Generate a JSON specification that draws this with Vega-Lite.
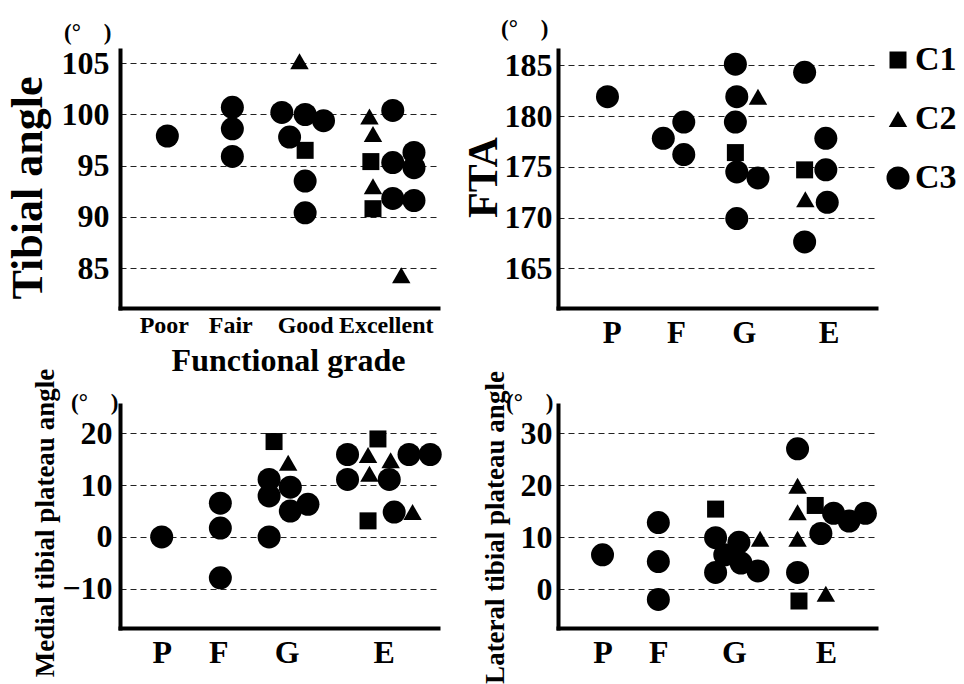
{
  "$schema": "https://vega.github.io/schema/vega-lite/v6.json",
  "background": "white",
  "padding": {"left": 5, "top": 18, "right": 0, "bottom": 0},
  "datasets": {
    "tibial": [
      {"grade": "Poor", "class": "C3", "pos": 1.02, "angle": 97.9},
      {"grade": "Fair", "class": "C3", "pos": 1.94, "angle": 100.7},
      {"grade": "Fair", "class": "C3", "pos": 1.94, "angle": 98.6},
      {"grade": "Fair", "class": "C3", "pos": 1.94, "angle": 95.9},
      {"grade": "Good", "class": "C2", "pos": 2.89, "angle": 105.2},
      {"grade": "Good", "class": "C3", "pos": 2.64, "angle": 100.2},
      {"grade": "Good", "class": "C3", "pos": 2.97, "angle": 100.0},
      {"grade": "Good", "class": "C3", "pos": 3.23, "angle": 99.4},
      {"grade": "Good", "class": "C3", "pos": 2.75, "angle": 97.8},
      {"grade": "Good", "class": "C1", "pos": 2.97, "angle": 96.5},
      {"grade": "Good", "class": "C3", "pos": 2.97, "angle": 93.5},
      {"grade": "Good", "class": "C3", "pos": 2.97, "angle": 90.4},
      {"grade": "Excellent", "class": "C2", "pos": 3.88, "angle": 99.8},
      {"grade": "Excellent", "class": "C2", "pos": 3.93, "angle": 98.1},
      {"grade": "Excellent", "class": "C1", "pos": 3.90, "angle": 95.4},
      {"grade": "Excellent", "class": "C2", "pos": 3.93, "angle": 93.0},
      {"grade": "Excellent", "class": "C1", "pos": 3.93, "angle": 90.8},
      {"grade": "Excellent", "class": "C3", "pos": 4.21, "angle": 100.4},
      {"grade": "Excellent", "class": "C3", "pos": 4.21, "angle": 95.3},
      {"grade": "Excellent", "class": "C3", "pos": 4.21, "angle": 91.8},
      {"grade": "Excellent", "class": "C3", "pos": 4.51, "angle": 96.3},
      {"grade": "Excellent", "class": "C3", "pos": 4.51, "angle": 94.8},
      {"grade": "Excellent", "class": "C3", "pos": 4.51, "angle": 91.6},
      {"grade": "Excellent", "class": "C2", "pos": 4.33, "angle": 84.3}
    ],
    "fta": [
      {"grade": "P", "class": "C3", "pos": 1.05, "angle": 181.9},
      {"grade": "F", "class": "C3", "pos": 1.84, "angle": 177.8},
      {"grade": "F", "class": "C3", "pos": 2.13, "angle": 179.4},
      {"grade": "F", "class": "C3", "pos": 2.13, "angle": 176.2},
      {"grade": "G", "class": "C3", "pos": 2.86, "angle": 185.1},
      {"grade": "G", "class": "C3", "pos": 2.88, "angle": 181.9},
      {"grade": "G", "class": "C3", "pos": 2.86, "angle": 179.4},
      {"grade": "G", "class": "C1", "pos": 2.86, "angle": 176.4},
      {"grade": "G", "class": "C3", "pos": 2.88, "angle": 174.5},
      {"grade": "G", "class": "C3", "pos": 3.18, "angle": 173.9},
      {"grade": "G", "class": "C3", "pos": 2.88, "angle": 169.9},
      {"grade": "G", "class": "C2", "pos": 3.18, "angle": 181.9},
      {"grade": "E", "class": "C3", "pos": 3.84, "angle": 184.3},
      {"grade": "E", "class": "C1", "pos": 3.84, "angle": 174.7},
      {"grade": "E", "class": "C2", "pos": 3.85, "angle": 171.8},
      {"grade": "E", "class": "C3", "pos": 3.84, "angle": 167.6},
      {"grade": "E", "class": "C3", "pos": 4.14, "angle": 177.8},
      {"grade": "E", "class": "C3", "pos": 4.14, "angle": 174.7},
      {"grade": "E", "class": "C3", "pos": 4.16, "angle": 171.5}
    ],
    "medial": [
      {"grade": "P", "class": "C3", "pos": 0.94, "angle": 0.0},
      {"grade": "F", "class": "C3", "pos": 1.77, "angle": 6.5},
      {"grade": "F", "class": "C3", "pos": 1.77, "angle": 1.7},
      {"grade": "F", "class": "C3", "pos": 1.77, "angle": -7.9},
      {"grade": "G", "class": "C1", "pos": 2.53, "angle": 18.4},
      {"grade": "G", "class": "C2", "pos": 2.73, "angle": 14.3},
      {"grade": "G", "class": "C3", "pos": 2.46, "angle": 11.1},
      {"grade": "G", "class": "C3", "pos": 2.46, "angle": 7.9},
      {"grade": "G", "class": "C3", "pos": 2.76, "angle": 9.6},
      {"grade": "G", "class": "C3", "pos": 2.76, "angle": 5.0},
      {"grade": "G", "class": "C3", "pos": 3.01, "angle": 6.3},
      {"grade": "G", "class": "C3", "pos": 2.46, "angle": 0.0},
      {"grade": "E", "class": "C3", "pos": 3.57, "angle": 15.9},
      {"grade": "E", "class": "C3", "pos": 3.57, "angle": 11.1},
      {"grade": "E", "class": "C2", "pos": 3.86, "angle": 15.8},
      {"grade": "E", "class": "C2", "pos": 3.88, "angle": 12.2},
      {"grade": "E", "class": "C1", "pos": 4.00, "angle": 18.9},
      {"grade": "E", "class": "C2", "pos": 4.18, "angle": 14.8},
      {"grade": "E", "class": "C3", "pos": 4.16, "angle": 11.1},
      {"grade": "E", "class": "C3", "pos": 4.44, "angle": 15.9},
      {"grade": "E", "class": "C3", "pos": 4.74, "angle": 15.9},
      {"grade": "E", "class": "C1", "pos": 3.86, "angle": 3.1},
      {"grade": "E", "class": "C3", "pos": 4.23, "angle": 4.8},
      {"grade": "E", "class": "C2", "pos": 4.49, "angle": 4.8}
    ],
    "lateral": [
      {"grade": "P", "class": "C3", "pos": 0.98, "angle": 6.6},
      {"grade": "F", "class": "C3", "pos": 1.77, "angle": 12.8},
      {"grade": "F", "class": "C3", "pos": 1.77, "angle": 5.3},
      {"grade": "F", "class": "C3", "pos": 1.77, "angle": -2.0},
      {"grade": "G", "class": "C1", "pos": 2.58, "angle": 15.4},
      {"grade": "G", "class": "C3", "pos": 2.58, "angle": 9.9},
      {"grade": "G", "class": "C3", "pos": 2.71, "angle": 6.6},
      {"grade": "G", "class": "C3", "pos": 2.91, "angle": 9.0},
      {"grade": "G", "class": "C3", "pos": 2.94, "angle": 5.0},
      {"grade": "G", "class": "C3", "pos": 2.58, "angle": 3.2},
      {"grade": "G", "class": "C3", "pos": 3.18, "angle": 3.5},
      {"grade": "G", "class": "C2", "pos": 3.21, "angle": 9.7},
      {"grade": "E", "class": "C3", "pos": 3.74, "angle": 27.0},
      {"grade": "E", "class": "C2", "pos": 3.74, "angle": 19.9},
      {"grade": "E", "class": "C2", "pos": 3.74, "angle": 14.8},
      {"grade": "E", "class": "C2", "pos": 3.74, "angle": 9.7},
      {"grade": "E", "class": "C3", "pos": 3.74, "angle": 3.2},
      {"grade": "E", "class": "C1", "pos": 3.76, "angle": -2.3},
      {"grade": "E", "class": "C1", "pos": 3.99, "angle": 16.1},
      {"grade": "E", "class": "C3", "pos": 4.07, "angle": 10.7},
      {"grade": "E", "class": "C2", "pos": 4.14, "angle": -0.9},
      {"grade": "E", "class": "C3", "pos": 4.25, "angle": 14.6},
      {"grade": "E", "class": "C3", "pos": 4.47, "angle": 13.1},
      {"grade": "E", "class": "C3", "pos": 4.70, "angle": 14.6}
    ]
  },
  "columns": 2,
  "bounds": "flush",
  "spacing": {"row": 97, "column": 120},
  "concat": [
    {
      "width": 318, "height": 258,
      "title": {"text": "(°\u00a0\u00a0\u00a0\u00a0)", "dx": -56, "offset": 2},
      "data": {"name": "tibial"},
      "mark": {"type": "point", "filled": true, "opacity": 1, "color": "black"},
      "encoding": {
        "x": {"field": "pos", "type": "quantitative",
          "scale": {"domain": [0.35, 4.85], "nice": false, "zero": false},
          "axis": {"values": [0.97, 1.91, 2.97, 4.11],
            "labelExpr": "datum.value < 1.5 ? 'Poor' : datum.value < 2.5 ? 'Fair' : datum.value < 3.5 ? 'Good' : 'Excellent'",
            "labelFontSize": 24, "labelPadding": 5,
            "title": "Functional grade", "titleFontSize": 32, "titleX": 168, "titleY": 52, "titleBaseline": "middle", "titleAlign": "center"}},
        "y": {"field": "angle", "type": "quantitative",
          "scale": {"domain": [81.1, 106.3], "nice": false, "zero": false},
          "axis": {"values": [85, 90, 95, 100, 105], "labelFontSize": 32, "labelPadding": 11,
            "title": "Tibial angle", "titleFontSize": 44, "titleX": -92, "titleY": 137.5, "titleBaseline": "middle", "titleAngle": -90, "titleAlign": "center"}},
        "shape": {"field": "class", "type": "nominal", "scale": {"domain": ["C1", "C2", "C3"], "range": ["square", "triangle-up", "circle"]}, "legend": null},
        "size": {"field": "class", "type": "nominal", "scale": {"type": "ordinal", "domain": ["C1", "C2", "C3"], "range": [289, 340, 529]}, "legend": null}
      }
    },
    {
      "width": 318, "height": 258,
      "title": {"text": "(°\u00a0\u00a0\u00a0\u00a0)", "dx": -57, "offset": 2},
      "data": {"name": "fta"},
      "mark": {"type": "point", "filled": true, "opacity": 1, "color": "black"},
      "encoding": {
        "x": {"field": "pos", "type": "quantitative",
          "scale": {"domain": [0.35, 4.85], "nice": false, "zero": false},
          "axis": {"values": [1.11, 2.02, 2.98, 4.18],
            "labelExpr": "datum.value < 1.5 ? 'P' : datum.value < 2.5 ? 'F' : datum.value < 3.5 ? 'G' : 'E'",
            "labelFontSize": 31, "labelPadding": 10, "title": null}},
        "y": {"field": "angle", "type": "quantitative",
          "scale": {"domain": [161.1, 186.5], "nice": false, "zero": false},
          "axis": {"values": [165, 170, 175, 180, 185], "labelFontSize": 32, "labelPadding": 6,
            "title": "FTA", "titleFontSize": 42, "titleX": -75, "titleY": 127, "titleBaseline": "middle", "titleAngle": -90, "titleAlign": "center"}},
        "shape": {"field": "class", "type": "nominal", "scale": {"domain": ["C1", "C2", "C3"], "range": ["square", "triangle-up", "circle"]},
          "legend": {"orient": "none", "legendX": 323, "legendY": -7, "title": null,
            "labelFont": "Liberation Serif", "labelFontWeight": "bold", "labelFontSize": 34, "labelColor": "black",
            "symbolFillColor": "black", "symbolStrokeColor": "black", "symbolStrokeWidth": 0, "symbolOpacity": 1,
            "rowPadding": 25, "labelOffset": 0, "padding": 0}},
        "size": {"field": "class", "type": "nominal", "scale": {"type": "ordinal", "domain": ["C1", "C2", "C3"], "range": [289, 340, 529]},
          "legend": {"orient": "none", "legendX": 323, "legendY": -7, "title": null,
            "labelFont": "Liberation Serif", "labelFontWeight": "bold", "labelFontSize": 34, "labelColor": "black",
            "symbolFillColor": "black", "symbolStrokeColor": "black", "symbolStrokeWidth": 0, "symbolOpacity": 1,
            "rowPadding": 25, "labelOffset": 0, "padding": 0}}
      }
    },
    {
      "width": 318, "height": 223,
      "title": {"text": "(°\u00a0\u00a0\u00a0\u00a0)", "dx": -49, "offset": 0, "dy": 47},
      "data": {"name": "medial"},
      "mark": {"type": "point", "filled": true, "opacity": 1, "color": "black"},
      "encoding": {
        "x": {"field": "pos", "type": "quantitative",
          "scale": {"domain": [0.35, 4.85], "nice": false, "zero": false},
          "axis": {"values": [0.94, 1.74, 2.71, 4.08],
            "labelExpr": "datum.value < 1.5 ? 'P' : datum.value < 2.5 ? 'F' : datum.value < 3.5 ? 'G' : 'E'",
            "labelFontSize": 32, "labelPadding": 9, "title": null}},
        "y": {"field": "angle", "type": "quantitative",
          "scale": {"domain": [-17.57, 25.45], "nice": false, "zero": false},
          "axis": {"values": [-10, 0, 10, 20], "labelFontSize": 32, "labelPadding": 8,
            "title": "Medial tibial plateau angle", "titleFontSize": 27, "titleX": -75, "titleY": 117.5, "titleBaseline": "middle", "titleAngle": -90, "titleAlign": "center"}},
        "shape": {"field": "class", "type": "nominal", "scale": {"domain": ["C1", "C2", "C3"], "range": ["square", "triangle-up", "circle"]}, "legend": null},
        "size": {"field": "class", "type": "nominal", "scale": {"type": "ordinal", "domain": ["C1", "C2", "C3"], "range": [289, 340, 529]}, "legend": null}
      }
    },
    {
      "width": 318, "height": 223,
      "title": {"text": "(°\u00a0\u00a0\u00a0\u00a0)", "dx": -52, "offset": 0, "dy": 44},
      "data": {"name": "lateral"},
      "mark": {"type": "point", "filled": true, "opacity": 1, "color": "black"},
      "encoding": {
        "x": {"field": "pos", "type": "quantitative",
          "scale": {"domain": [0.35, 4.85], "nice": false, "zero": false},
          "axis": {"values": [0.98, 1.77, 2.84, 4.14],
            "labelExpr": "datum.value < 1.5 ? 'P' : datum.value < 2.5 ? 'F' : datum.value < 3.5 ? 'G' : 'E'",
            "labelFontSize": 32, "labelPadding": 9, "title": null}},
        "y": {"field": "angle", "type": "quantitative",
          "scale": {"domain": [-7.5, 35.45], "nice": false, "zero": false},
          "axis": {"values": [0, 10, 20, 30], "labelFontSize": 32, "labelPadding": 6,
            "title": "Lateral tibial plateau angle", "titleFontSize": 27, "titleX": -63, "titleY": 122, "titleBaseline": "middle", "titleAngle": -90, "titleAlign": "center"}},
        "shape": {"field": "class", "type": "nominal", "scale": {"domain": ["C1", "C2", "C3"], "range": ["square", "triangle-up", "circle"]}, "legend": null},
        "size": {"field": "class", "type": "nominal", "scale": {"type": "ordinal", "domain": ["C1", "C2", "C3"], "range": [289, 340, 529]}, "legend": null}
      }
    }
  ],
  "resolve": {
    "scale": {"x": "independent", "y": "independent", "shape": "independent", "size": "independent"},
    "legend": {"shape": "independent", "size": "independent"}
  },
  "config": {
    "view": {"stroke": null},
    "axis": {
      "domainColor": "black", "domainWidth": 4, "domainCap": "square",
      "ticks": false, "tickSize": 0,
      "labelFont": "Liberation Serif", "labelFontWeight": "bold", "labelColor": "black",
      "labelOverlap": false, "labelFlush": false, "labelBound": false,
      "titleFont": "Liberation Serif", "titleFontWeight": "bold", "titleColor": "black",
      "gridColor": "#222222", "gridDash": [6, 4], "gridWidth": 1.1, "gridOpacity": 1
    },
    "axisX": {"grid": false},
    "axisY": {"grid": true},
    "title": {
      "font": "Liberation Serif", "fontWeight": "bold", "fontSize": 23, "color": "black",
      "anchor": "start", "frame": "group", "baseline": "alphabetic"
    }
  }
}
